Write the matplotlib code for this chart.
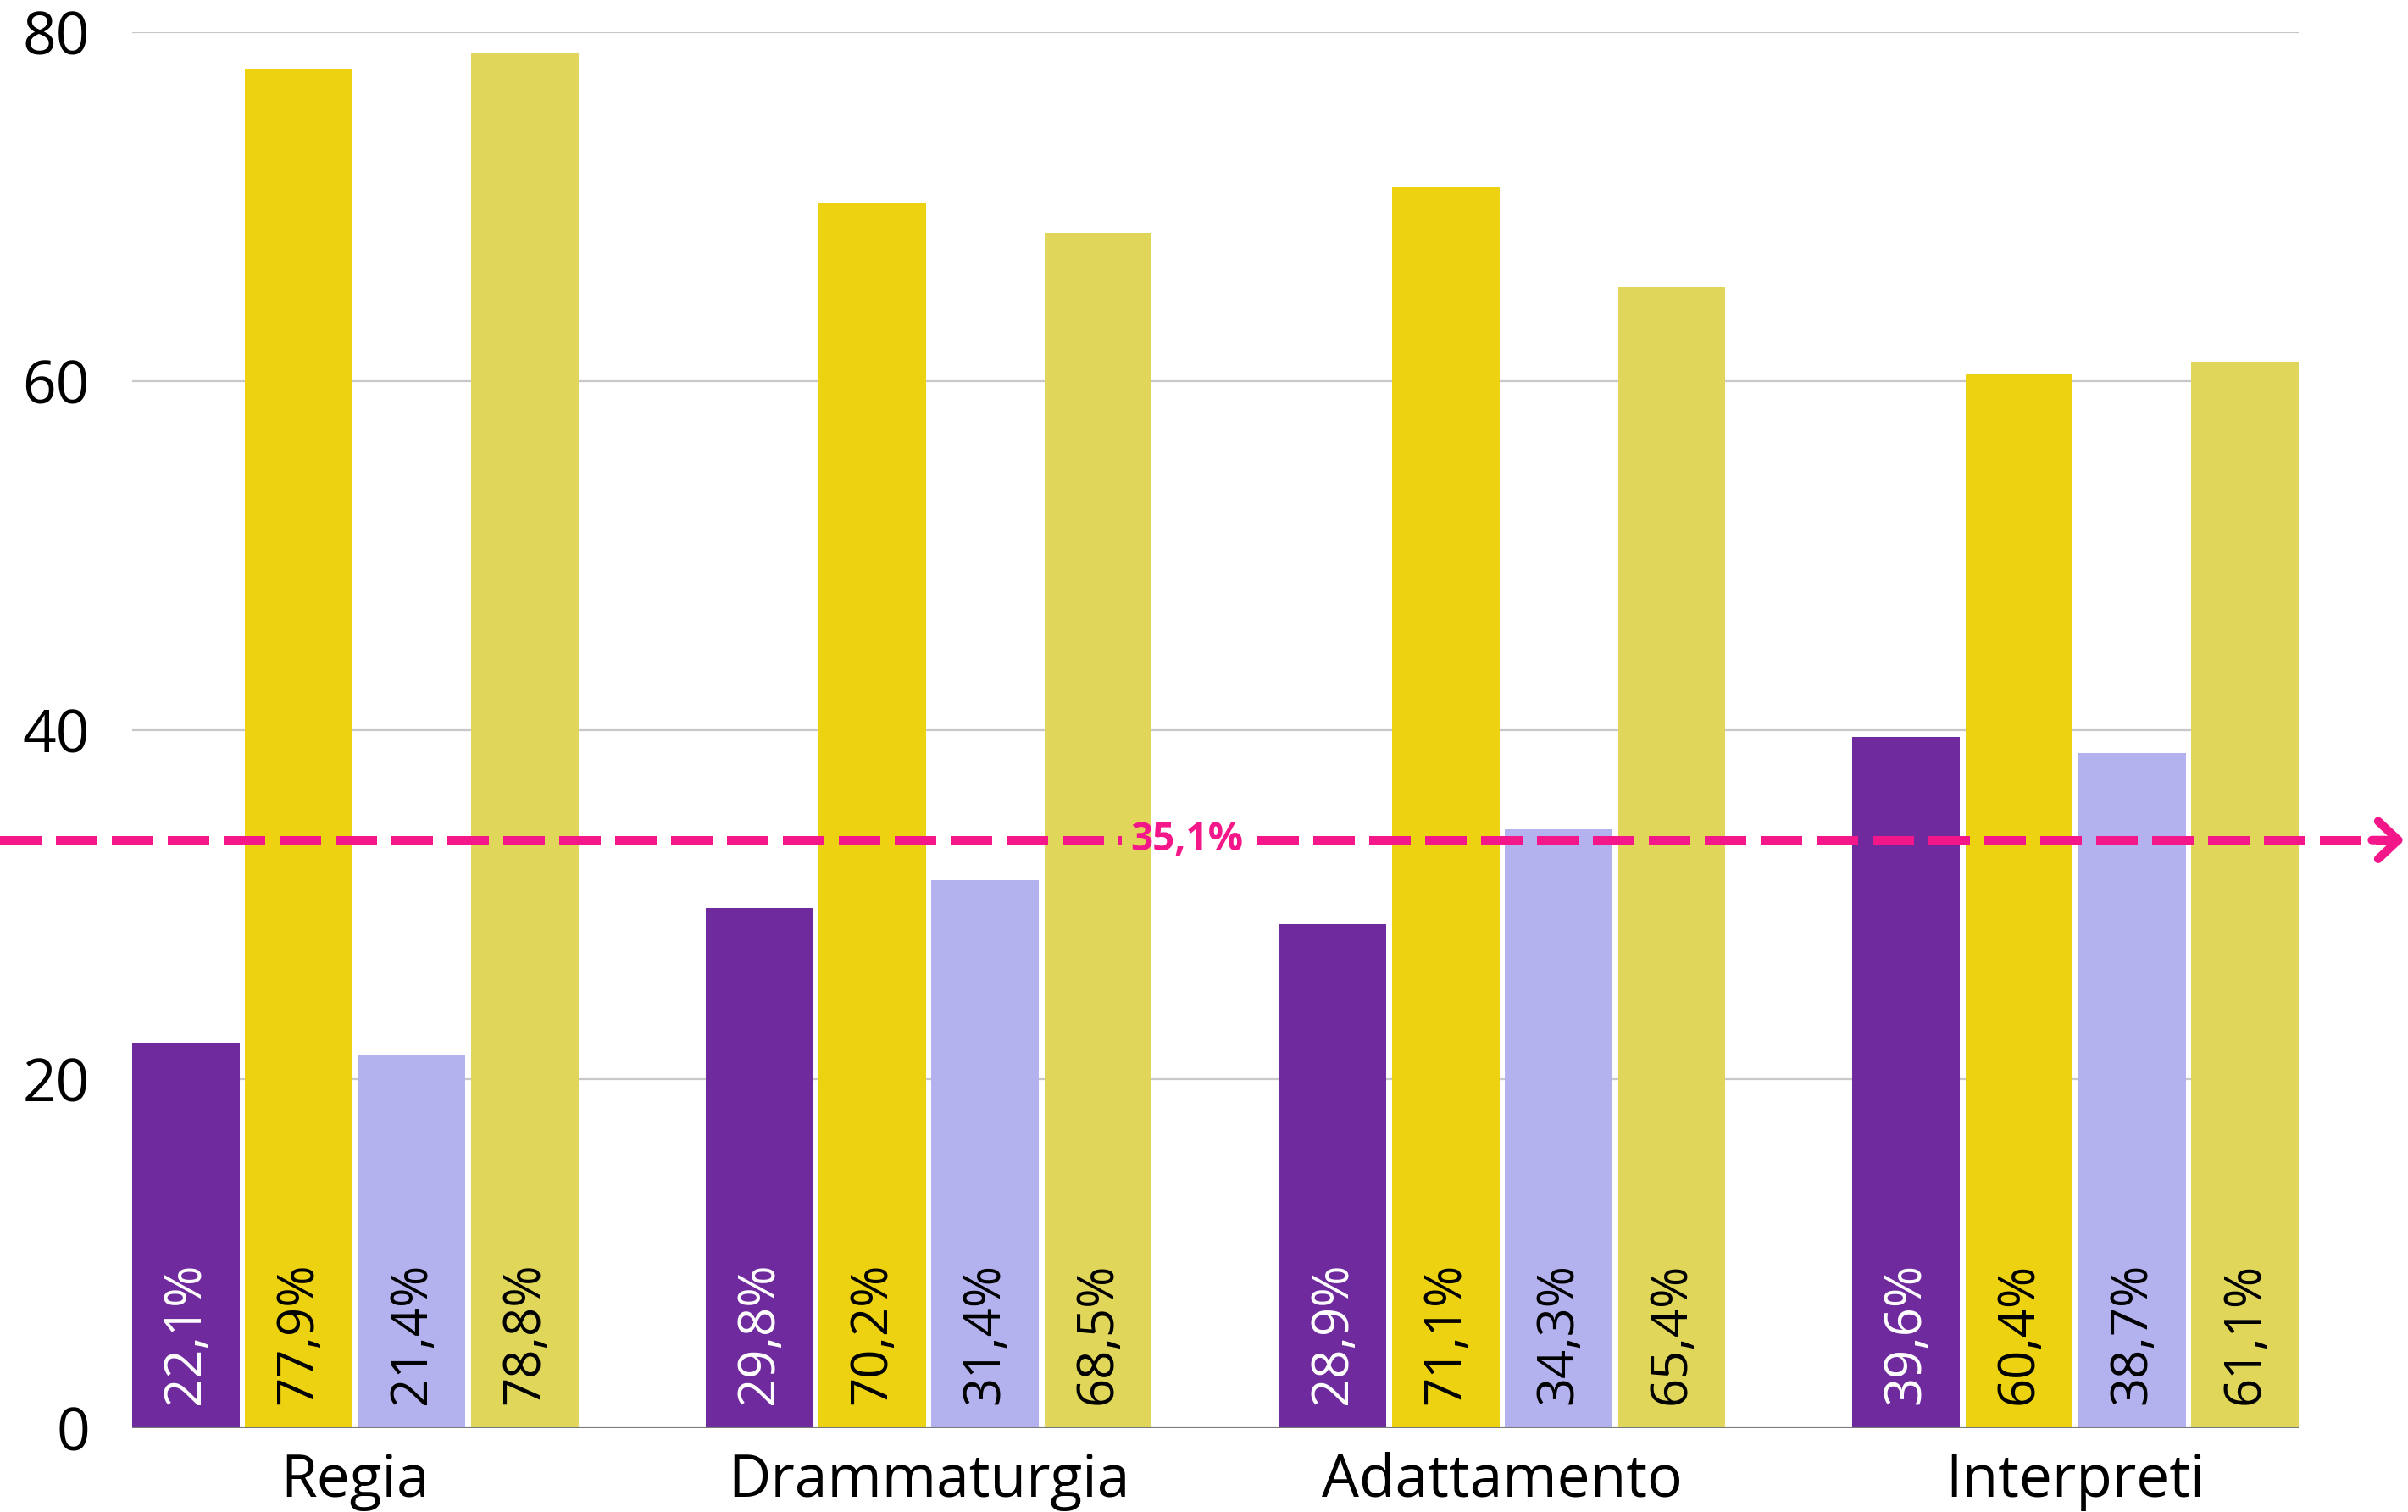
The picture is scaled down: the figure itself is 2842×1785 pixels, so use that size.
import matplotlib.pyplot as plt
import matplotlib.transforms as mtransforms

plt.rcParams['font.family'] = ['Open Sans', 'DejaVu Sans']

# data
categories = ['Regia', 'Drammaturgia', 'Adattamento', 'Interpreti']
series_a = [22.1, 29.8, 28.9, 39.6]   # purple
series_b = [77.9, 70.2, 71.1, 60.4]   # yellow
series_c = [21.4, 31.4, 34.3, 38.7]   # lavender
series_d = [78.8, 68.5, 65.4, 61.1]   # khaki
avg_label = '35,1%'
avg_y = 33.7          # where the dashed line sits in the picture
avg_label_x = 1.45

colors = ['#6F2B9E', '#EDD211', '#B4B2EE', '#DFD65A']
text_colors = ['white', 'black', 'black', 'black']
pink = '#F4178A'


def fmt(v):
    return ('%.1f%%' % v).replace('.', ',')


def create_plot():
    fig = plt.figure(figsize=(28.42, 17.85), dpi=100)
    ax = fig.add_axes([0.0549, 0.0555, 0.8997, 0.9232])

    slot = 0.197
    width = 0.187
    series = [series_a, series_b, series_c, series_d]
    xs = list(range(len(categories)))
    for i, vals in enumerate(series):
        off = (i - 1.5) * slot
        pos = [x + off for x in xs]
        ax.bar(pos, vals, width=width, color=colors[i], zorder=2)
        for p, v in zip(pos, vals):
            ax.annotate(fmt(v), (p, 0), xytext=(0, 20), textcoords='offset points',
                        rotation=90, ha='center', va='bottom', fontsize=43,
                        color=text_colors[i], zorder=4)

    ax.set_xlim(-1.5 * slot - width / 2, xs[-1] + 1.5 * slot + width / 2)
    ax.set_ylim(0, 80)
    ax.set_yticks([0, 20, 40, 60, 80])
    ax.set_xticks(xs)
    ax.set_xticklabels(categories)
    ax.tick_params(axis='y', length=0, labelsize=50, pad=36)
    ax.tick_params(axis='x', length=0, labelsize=50, pad=20)
    for s in ax.spines.values():
        s.set_visible(False)
    ax.grid(axis='y', color='#C8C8C8', linewidth=1.6, zorder=0)
    ax.set_axisbelow(True)
    ax.axhline(0, color='#7A7A7A', linewidth=2.2, zorder=3)

    # dashed average line across the whole figure, broken around its label
    blend = mtransforms.blended_transform_factory(fig.transFigure, ax.transData)
    for x0, x1 in [(0, 0.466), (0.522, 0.993)]:
        ax.plot([x0, x1], [avg_y, avg_y], transform=blend, color=pink,
                linewidth=7.2, dashes=(4.9, 1.7), clip_on=False, zorder=5,
                solid_capstyle='butt', dash_capstyle='butt')
    ax.annotate('', xy=(0.9985, avg_y), xycoords=blend,
                xytext=(0.985, avg_y), textcoords=blend,
                arrowprops=dict(arrowstyle='->,head_length=0.85,head_width=0.8',
                                color=pink, lw=7.2, mutation_scale=20,
                                capstyle='round', joinstyle='round',
                                shrinkA=0, shrinkB=0),
                annotation_clip=False, zorder=5)
    ax.text(avg_label_x, avg_y, avg_label, color=pink, fontsize=33,
            fontweight='bold', ha='center', va='center', zorder=6)

    fig.savefig('out.png', dpi=100)


if __name__ == "__main__":
    create_plot()
